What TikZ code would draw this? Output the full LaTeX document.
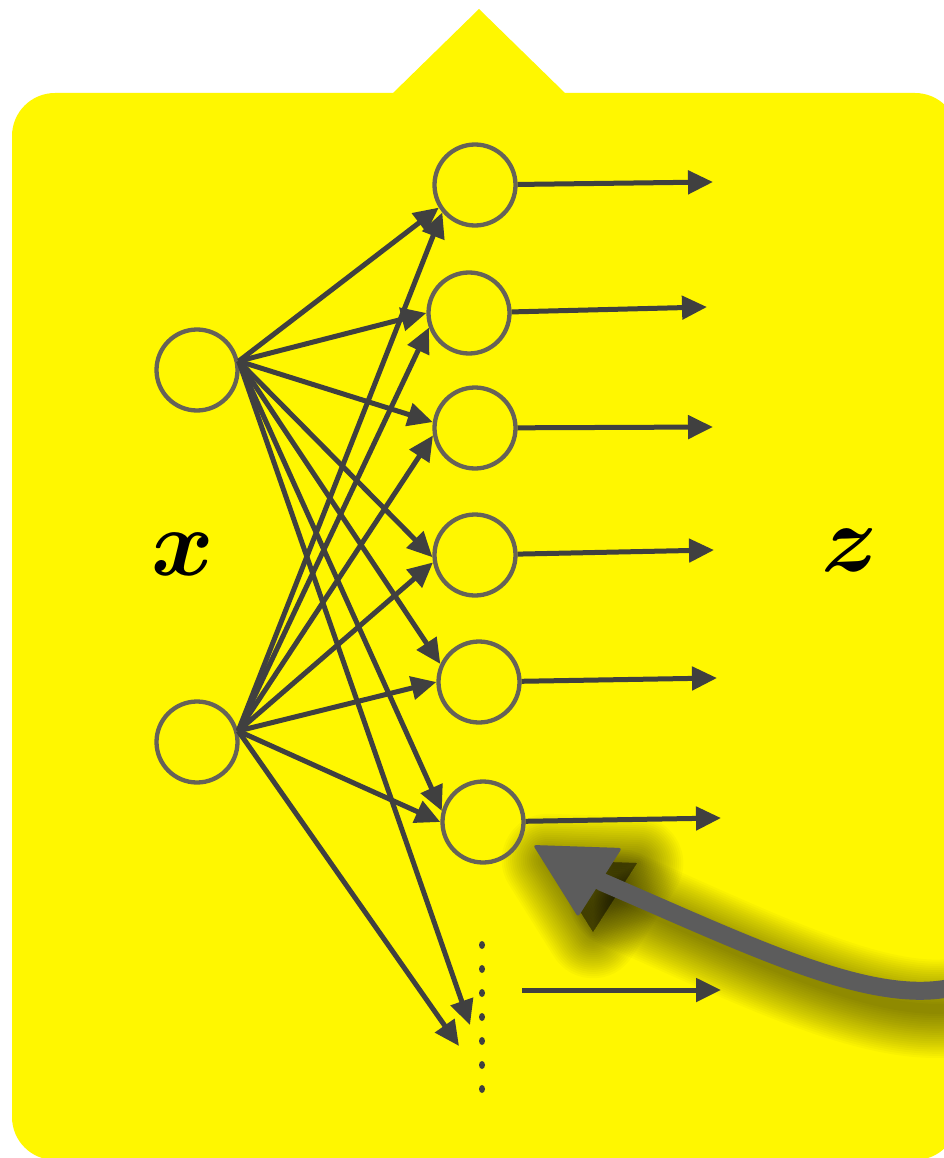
\documentclass[tikz,border=0pt]{standalone}
\usepackage{amsmath}
\usetikzlibrary{arrows.meta}
\definecolor{hl}{RGB}{255,247,0}
\definecolor{edgec}{RGB}{64,64,64}
\definecolor{ringc}{RGB}{102,98,88}
\definecolor{bigc}{RGB}{92,92,92}
\begin{document}
\begin{tikzpicture}[x=1pt,y=-1pt,
  neuron/.style={circle,draw=ringc,line width=4.3pt,minimum size=81pt,inner sep=0pt},
  conn/.style={draw=edgec,line width=5pt,-{Triangle[length=25pt,width=23pt]}},
  lab/.style={scale=9.5,text=black,inner sep=0pt},
  dotc/.style={fill=edgec}]
\useasboundingbox (0,0) rectangle (944,1158);
\fill[white] (0,0) rectangle (944,1158);
% callout
\fill[hl,rounded corners=43pt] (12,93) rectangle (958,1160);
\fill[hl] (392,94) -- (479,9) -- (566,94) -- cycle;

% soft shadow of big arrow
\foreach \i in {1,...,22}{
  \draw[black,opacity=0.022,line width={6+4.2*\i},line cap=round,line join=round]
    (978,1003) .. controls (896,1028) and (776,968) .. (618,898);
  \filldraw[black,opacity=0.022,line width={4.2*\i},line join=round]
    (548,860) -- (637,863) -- (593,932) -- cycle;
}

% neurons
\node[neuron] (L1) at (197,370) {};
\node[neuron] (L2) at (197,742) {};
\node[neuron] (R1) at (475,185) {};
\node[neuron] (R2) at (469,313) {};
\node[neuron] (R3) at (475,428) {};
\node[neuron] (R4) at (475,555) {};
\node[neuron] (R5) at (479,682) {};
\node[neuron] (R6) at (483,822) {};

\coordinate (d1) at (470,1025);
\coordinate (d2) at (459,1046);

% input connections
\draw[conn] (L1.12) -- (R1.212);
\draw[conn] (L1.12) -- (R2.west);
\draw[conn] (L1.12) -- (R3.172);
\draw[conn] (L1.12) -- (R4.183);
\draw[conn] (L1.12) -- (R5.155);
\draw[conn] (L1.12) -- (R6.165);
\draw[conn] (L1.12) -- (d1);
\draw[conn] (L2.15) -- (R1.220);
\draw[conn] (L2.15) -- (R2.200);
\draw[conn] (L2.15) -- (R3.190);
\draw[conn] (L2.15) -- (R4.190);
\draw[conn] (L2.15) -- (R5.180);
\draw[conn] (L2.15) -- (R6.180);
\draw[conn] (L2.15) -- (d2);

% outputs
\coordinate (o1) at (713,182);
\coordinate (o2) at (707,307);
\coordinate (o3) at (713,427);
\coordinate (o4) at (714,550);
\coordinate (o5) at (717,678);
\coordinate (o6) at (721,818);
\coordinate (s7) at (522,990);
\coordinate (o7) at (721,990);
\draw[conn] (R1) -- (o1);
\draw[conn] (R2) -- (o2);
\draw[conn] (R3) -- (o3);
\draw[conn] (R4) -- (o4);
\draw[conn] (R5) -- (o5);
\draw[conn] (R6) -- (o6);
\draw[conn] (s7) -- (o7);

% vertical dots
\foreach \k in {0,...,6}{
  \fill[dotc] (482,{945+24*\k}) ellipse (3pt and 4pt);
}

% labels
\node[lab] (xl) at (183,554) {$\boldsymbol{x}$};
\node[lab] (zl) at (850,550) {$\boldsymbol{z}$};

% big pointer arrow
\coordinate (bs) at (962,985);
\coordinate (be) at (602,882);
\draw[bigc,line width=18pt,line cap=round] (bs) .. controls (880,1010) and (760,950) .. (be);
\fill[bigc,rounded corners=3pt] (533,845) -- (622,848) -- (578,917) -- cycle;
\end{tikzpicture}
\end{document}
